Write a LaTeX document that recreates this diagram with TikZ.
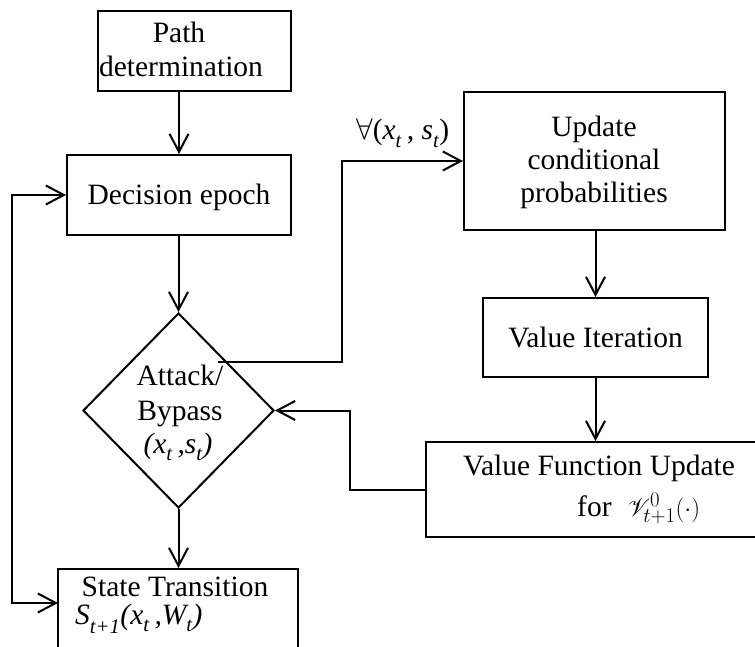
\documentclass[tikz,border=0pt]{standalone}
\usepackage{fontspec}
\setmainfont{Liberation Serif}
\usepackage{mathrsfs}
\usetikzlibrary{arrows.meta,shapes.geometric}
\newcommand\sbt[1]{\raisebox{-0.3ex}{\textsubscript{\itshape #1}}}
\tikzset{
  box/.style={draw, line width=2pt, rectangle, inner sep=0pt},
  lbl/.style={inner sep=0pt, anchor=base, font=\fontsize{29.5}{34}\selectfont},
  lblw/.style={lbl, anchor=base west},
  arr/.style={line width=2pt, -{Straight Barb[length=18pt,width=19pt]}},
  darr/.style={line width=2pt, {Straight Barb[length=18pt,width=19pt]}-{Straight Barb[length=18pt,width=19pt]}},
}
\begin{document}
\begin{tikzpicture}[x=1pt,y=-1pt]
\useasboundingbox (0,0) rectangle (755,647);
\begin{scope}
\clip (0,0) rectangle (755,647);
% boxes
\node[box, minimum width=193pt, minimum height=80pt] (path) at (194.5,51) {};
\node[box, minimum width=224pt, minimum height=80pt] (dec) at (179,195) {};
\node[draw, diamond, line width=2pt, minimum width=191pt, minimum height=195pt, inner sep=0pt] (dia) at (178.5,410.5) {};
\node[box, minimum width=261pt, minimum height=138pt] (upd) at (594.5,161) {};
\node[box, minimum width=225pt, minimum height=79pt] (vi) at (595.5,337.5) {};
\node[box, minimum width=346pt, minimum height=95pt] (vf) at (599,489.5) {};
\node[box, minimum width=240pt, minimum height=130pt] (st) at (178,634) {};
% texts
\node[lbl] (t1) at (179,43) {Path};
\node[lbl] (t2) at (181,77) {determination};
\node[lbl] (t3) at (179,205) {Decision epoch};
\node[lbl] (t4) at (180,385) {Attack/};
\node[lbl] (t5) at (180,420) {Bypass};
\node[lbl] (t6) at (178,453) {\itshape (x\sbt{t}\,,s\sbt{t})};
\node[lblw] (t7) at (356,140) {\scalebox{1.2}{$\forall$}(\textit{x}\sbt{t}\,, \textit{s}\sbt{t})};
\node[lbl] (t8) at (594,137) {Update};
\node[lbl] (t9) at (594,170) {conditional};
\node[lbl] (t10) at (594,203) {probabilities};
\node[lbl] (t11) at (595.5,347) {Value Iteration};
\node[lbl] (t12) at (599,475) {Value Function Update};
\node[lblw] (t13) at (577,516) {for\hspace{0.55em}$\mathscr{V}^{0}_{t+1}(\cdot)$};
\node[lbl] (t14) at (175,596) {State Transition};
\node[lblw] (t15) at (75,624) {\itshape S\sbt{t+1}(x\sbt{t}\,,W\sbt{t})};
% connectors
\coordinate (dout) at (218,362);
\coordinate (mx) at (342,0);
\coordinate (mx2) at (350,0);
\coordinate (lx) at (12,0);
\coordinate (stin) at (58,603);
\draw[arr] (dec.north |- path.south) -- (dec.north);
\draw[arr] (dia.north |- dec.south) -- (dia.north);
\draw[arr] (dia.south) -- (dia.south |- st.north);
\draw[arr] (dout) -- (dout -| mx) |- (upd.west);
\draw[arr] (vi.north |- upd.south) -- (vi.north);
\draw[arr] (vi.south) -- (vi.south |- vf.north);
\draw[arr] (vf.west) -- (vf.west -| mx2) |- (dia.east);
\draw[darr] (stin) -- (stin -| lx) |- (dec.west);
\end{scope}
\end{tikzpicture}
\end{document}
